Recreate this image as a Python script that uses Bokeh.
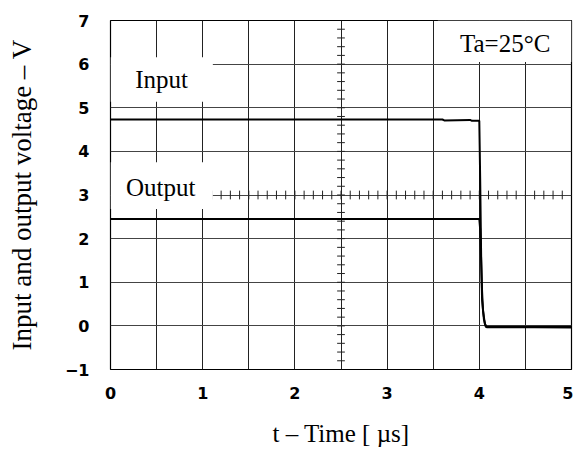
import numpy as np
from bokeh.plotting import figure
from bokeh.models import FixedTicker
from bokeh.core.properties import value
from bokeh.embed import file_html
from bokeh.resources import INLINE

# ---- data ----
input_t = [0.0, 3.6, 3.62, 3.9, 3.92, 4.0, 4.01, 4.02, 4.03, 4.05, 4.07, 4.3, 5.0]
input_v = [4.73, 4.73, 4.71, 4.72, 4.70, 4.70, 3.3, 1.6, 0.6, 0.15, -0.02, -0.02, -0.02]

output_t = [0.0, 4.0, 4.01, 4.02, 4.03, 4.04, 4.06, 4.08, 4.3, 4.6, 5.0]
output_v = [2.45, 2.45, 2.2, 1.5, 0.8, 0.35, 0.05, -0.03, -0.03, -0.03, -0.04]

x_ticks = [0, 1, 2, 3, 4, 5]
y_ticks = [-1, 0, 1, 2, 3, 4, 5, 6, 7]
x_grid = [0, 0.5, 1, 1.5, 2, 2.5, 3, 3.5, 4, 4.5, 5]

p = figure(width=573, height=449, x_range=(0, 5), y_range=(-1, 7),
           output_backend="svg", toolbar_location=None,
           min_border_left=110, min_border_right=2,
           min_border_top=20, min_border_bottom=77)
p.background_fill_color = "white"
p.border_fill_color = "white"
p.outline_line_color = "black"
p.outline_line_width = 1.2

# grid
p.xgrid.ticker = FixedTicker(ticks=x_grid)
p.ygrid.ticker = FixedTicker(ticks=y_ticks)
p.xgrid.grid_line_color = "#222222"
p.ygrid.grid_line_color = "#444444"
p.xgrid.grid_line_width = 1
p.ygrid.grid_line_width = 1

# axes
for ax in (p.xaxis[0], p.yaxis[0]):
    ax.axis_line_color = None
    ax.major_tick_line_color = None
    ax.minor_tick_line_color = None
    ax.major_label_text_font = "DejaVu Sans"
    ax.major_label_text_font_style = "bold"
    ax.major_label_text_font_size = "16px"
    ax.major_label_text_color = "black"
    ax.axis_label_text_font = "Liberation Serif"
    ax.axis_label_text_font_style = "normal"
    ax.axis_label_text_font_size = "25px"
    ax.axis_label_text_color = "black"

p.yaxis.axis_label_text_font_size = "27px"
p.xaxis.ticker = FixedTicker(ticks=x_ticks)
p.yaxis.ticker = FixedTicker(ticks=y_ticks)
p.yaxis.major_label_overrides = {-1: "\u22121"}
p.xaxis.major_label_standoff = 11
p.yaxis.major_label_standoff = 15
p.xaxis.axis_label = "t \u2013 Time [ \u00b5s]"
p.yaxis.axis_label = "Input and output voltage \u2013 V"
p.xaxis.axis_label_standoff = 18
p.yaxis.axis_label_standoff = 25

# oscilloscope centre-line minor ticks
hx = np.round(np.arange(0.1, 5.0, 0.1), 2)
p.segment(x0=hx, x1=hx, y0=3 - 0.1, y1=3 + 0.1, line_color="#222222", line_width=1)
vy = np.round(np.arange(-0.8, 7.0, 0.2), 2)
p.segment(x0=2.5 - 0.042, x1=2.5 + 0.042, y0=vy, y1=vy, line_color="#222222", line_width=1)

# traces
p.line(input_t, input_v, line_color="black", line_width=2)
p.line(output_t, output_v, line_color="black", line_width=2)

# white label boxes
p.quad(left=[0, 0, 3.55], right=[1.11, 1.11, 5.0], bottom=[5.14, 2.68, 6.05], top=[6.16, 3.75, 7.0],
       fill_color="white", line_color=None)

p.text(x=[0.554, 0.545, 4.28], y=[5.64, 3.18, 6.47], text=["Input", "Output", "Ta=25\u00b0C"],
       text_font=value("Liberation Serif"), text_font_size="25px",
       text_align="center", text_baseline="middle", text_color="black")

open("out.html", "w").write(file_html(p, INLINE))
